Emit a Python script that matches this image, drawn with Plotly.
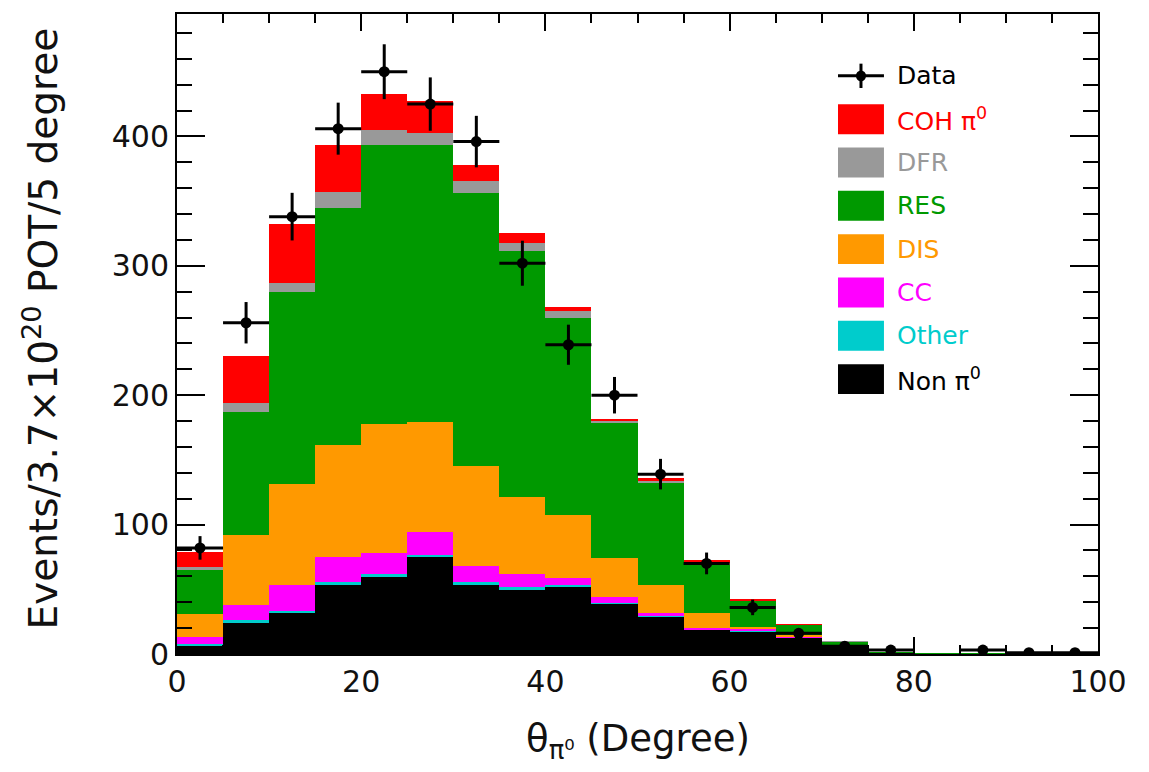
import plotly.graph_objects as go

# Bin centres of the pi0 angle histogram (5 degree bins, 0-100 degrees)
bin_centers = [2.5, 7.5, 12.5, 17.5, 22.5, 27.5, 32.5, 37.5, 42.5, 47.5,
               52.5, 57.5, 62.5, 67.5, 72.5, 77.5, 82.5, 87.5, 92.5, 97.5]
bin_half_width = [2.5] * 20

# Observed events (None = empty bin, not drawn) and statistical errors
data_counts = [82, 256, 338, 406, 450, 425, 396, 302, 239, 200,
               139, 70, 36, 16, 6, 3, None, 3, 1, 1]
data_errors = [9.1, 16.0, 18.4, 20.1, 21.2, 20.6, 19.9, 17.4, 15.5, 14.1,
               11.8, 8.4, 6.0, 4.0, 2.4, 1.7, None, 1.7, 1.0, 1.0]

# Simulated contributions per bin (stacked from bottom to top)
non_pi0 = [6, 24.5, 32, 54, 60, 75, 54, 50, 52, 38.7,
           29, 18.6, 17.6, 13, 6, 0.8, 0.4, 0.4, 0.4, 0.4]
other = [2, 1.5, 1.5, 1.5, 1.5, 1.5, 1.5, 1.5, 1, 0.8,
         0.5, 0.3, 0.2, 0.1, 0.1, 0, 0, 0, 0, 0]
cc = [5, 12, 19.5, 19.5, 16.5, 17.5, 12.5, 10.5, 6, 4.5,
      2, 1.3, 1.2, 0.3, 0.1, 0, 0, 0, 0, 0]
dis = [18, 54, 78, 86.5, 100, 85, 77, 59, 48.5, 30,
       21.5, 11.5, 2.2, 1.6, 0.8, 0.1, 0, 0, 0, 0]
res = [34, 95, 149, 183, 215, 214.4, 211, 190.6, 152.5, 105,
       79.5, 37.5, 20, 7.7, 2.9, 0.3, 0.1, 0.1, 0.1, 0.1]
dfr = [2, 7, 6.6, 12.5, 12, 8.9, 9.6, 6.4, 5.4, 1.5,
       1.5, 1.5, 0.5, 0.2, 0.1, 0, 0, 0, 0, 0]
coh = [11.5, 36, 45.4, 36, 28, 24.7, 12.4, 7, 2.6, 1.5,
       2, 2.1, 0.5, 0.1, 0, 0, 0, 0, 0, 0]

components = [
    ("Non π<sup>0</sup>", non_pi0, "#000000"),
    ("Other", other, "#00cccc"),
    ("CC", cc, "#ff00ff"),
    ("DIS", dis, "#ff9900"),
    ("RES", res, "#009900"),
    ("DFR", dfr, "#999999"),
    ("COH π<sup>0</sup>", coh, "#ff0000"),
]

FONT = "DejaVu Sans"

fig = go.Figure()

for name, values, color in components:
    fig.add_trace(go.Bar(
        x=bin_centers, y=values, width=5, name=name,
        marker=dict(color=color, line=dict(width=0)),
        showlegend=False,
    ))

fig.add_trace(go.Scatter(
    x=bin_centers, y=data_counts, mode="markers", name="Data",
    marker=dict(symbol="circle", size=11, color="black"),
    error_y=dict(type="data", array=data_errors, thickness=3, width=0, color="black"),
    error_x=dict(type="data", array=bin_half_width, thickness=3, width=0, color="black"),
    showlegend=False,
))

# Hand-built legend box in the upper right of the frame
shapes = []
annotations = []
leg_x0, leg_x1, leg_text_x = 0.7177, 0.7676, 0.7796
row_top, row_step, half_h = 0.9034, 0.0677, 0.0234

# Data entry: horizontal bar, vertical bar and marker
y0 = row_top
xm = (leg_x0 + leg_x1) / 2
shapes.append(dict(type="line", xref="paper", yref="paper",
                   x0=leg_x0, x1=leg_x1, y0=y0, y1=y0,
                   line=dict(color="black", width=3)))
shapes.append(dict(type="line", xref="paper", yref="paper",
                   x0=xm, x1=xm, y0=y0 - 0.019, y1=y0 + 0.019,
                   line=dict(color="black", width=3)))
shapes.append(dict(type="circle", xref="paper", yref="paper",
                   x0=xm - 0.0055, x1=xm + 0.0055, y0=y0 - 0.0085, y1=y0 + 0.0085,
                   fillcolor="black", line=dict(color="black", width=0)))
annotations.append(dict(x=leg_text_x, y=y0, xref="paper", yref="paper",
                        text="Data", showarrow=False, xanchor="left", yanchor="middle",
                        font=dict(family=FONT, size=25, color="black")))

for i, (name, values, color) in enumerate(reversed(components), start=1):
    yc = row_top - i * row_step
    shapes.append(dict(type="rect", xref="paper", yref="paper",
                       x0=leg_x0, x1=leg_x1, y0=yc - half_h, y1=yc + half_h,
                       fillcolor=color, line=dict(width=0)))
    annotations.append(dict(x=leg_text_x, y=yc, xref="paper", yref="paper",
                            text=name, showarrow=False, xanchor="left", yanchor="middle",
                            font=dict(family=FONT, size=25, color=color)))

# Axis titles
annotations.append(dict(x=-0.148, y=0.508, xref="paper", yref="paper",
                        text="Events/3.7×10<sup>20</sup> POT/5 degree",
                        textangle=-90, showarrow=False,
                        xanchor="center", yanchor="middle",
                        font=dict(family=FONT, size=39, color="#111111")))
annotations.append(dict(x=0.5, y=-0.136, xref="paper", yref="paper",
                        text="θ<sub>π⁰</sub> (Degree)", showarrow=False,
                        xanchor="center", yanchor="middle",
                        font=dict(family=FONT, size=37, color="#111111")))

fig.update_layout(
    width=1149, height=772,
    margin=dict(l=177, r=51, t=12, b=118),
    paper_bgcolor="white", plot_bgcolor="white",
    barmode="stack", bargap=0,
    showlegend=False,
    shapes=shapes, annotations=annotations,
    font=dict(family=FONT, color="#111111"),
)

fig.update_xaxes(
    range=[0, 100], dtick=20, tick0=0,
    ticks="inside", ticklen=17, tickwidth=2, tickcolor="black",
    minor=dict(dtick=5, ticks="inside", ticklen=9, tickwidth=2, tickcolor="black"),
    showline=True, linewidth=2, linecolor="black", mirror="ticks",
    showgrid=False, zeroline=False,
    tickfont=dict(family=FONT, size=30, color="#111111"),
    ticklabelstandoff=0,
)
fig.update_yaxes(
    range=[0, 494.6], dtick=100, tick0=0,
    ticks="inside", ticklen=28, tickwidth=2, tickcolor="black",
    minor=dict(dtick=20, ticks="inside", ticklen=15, tickwidth=2, tickcolor="black"),
    showline=True, linewidth=2, linecolor="black", mirror="ticks",
    showgrid=False, zeroline=False,
    tickfont=dict(family=FONT, size=30, color="#111111"),
)

fig.write_html("out.html")
